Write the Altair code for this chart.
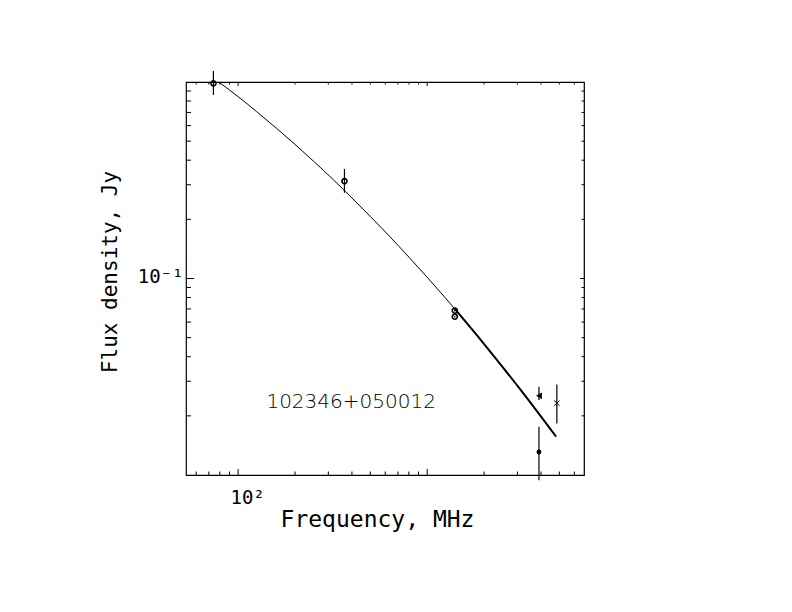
import altair as alt
import pandas as pd

# ---- measured flux densities (MHz, Jy) ----
pt_freq = [74, 365, 1400, 1400, 3900, 3900, 4850]
pt_flux = [0.985, 0.313, 0.0686, 0.0639, 0.0131, 0.0253, 0.0232]
pt_lo = [0.859, 0.273, 0.0680, 0.0633, 0.0094, 0.0241, 0.0183]
pt_hi = [1.137, 0.361, 0.0692, 0.0645, 0.0176, 0.0281, 0.0289]
pt_kind = ["open", "open", "open", "open", "filled", "tri", "cross"]

# ---- fitted spectrum ----
fit_freq = [79, 100, 125, 160, 200, 250, 320, 400, 500, 630, 800, 1000, 1400, 2000, 3150, 4800]
fit_flux = [1.00, 0.842, 0.708, 0.580, 0.481, 0.396, 0.317, 0.257, 0.207, 0.1645, 0.1285,
            0.1014, 0.0700, 0.0464, 0.0268, 0.0157]
thick_from = 1400

# ---- axis ticks ----
x_minor = [60, 70, 80, 90, 200, 300, 400, 500, 600, 700, 800, 900, 2000, 3000, 4000, 5000, 6000]
x_major = [100, 1000]
y_minor = [0.02, 0.03, 0.04, 0.05, 0.06, 0.07, 0.08, 0.09, 0.2, 0.3, 0.4, 0.5, 0.6, 0.7, 0.8, 0.9]
y_major = [0.1]

source_name = ["102346+050012"]
name_freq = [396]
name_flux = [0.0219]

W, H = 398, 393
FONT = "DejaVu Sans Mono"

xs = alt.Scale(type="log", domain=[53, 6750], nice=False)
ys = alt.Scale(type="log", domain=[0.01, 1.0], nice=False)

pts = pd.DataFrame({"freq": pt_freq, "flux": pt_flux, "lo": pt_lo, "hi": pt_hi, "kind": pt_kind})
fit = pd.DataFrame({"freq": fit_freq, "flux": fit_flux})

x_axis = alt.Axis(values=[100], labelExpr="'10²'", ticks=False, tickSize=0, domain=False, grid=False,
                  labelFont=FONT, labelFontSize=19, labelColor="black", labelBaseline="alphabetic",
                  labelPadding=28, labelOffset=9,
                  title="Frequency, MHz", titleFont=FONT, titleFontSize=23, titleFontWeight="normal",
                  titleColor="black", titleX=191, titleY=51, titleBaseline="alphabetic", titleAlign="center")
y_axis = alt.Axis(values=[0.1], labelExpr="'10⁻¹'", ticks=False, tickSize=0, domain=False, grid=False,
                  labelFont=FONT, labelFontSize=19, labelColor="black", labelAlign="right",
                  labelBaseline="middle", labelPadding=3, labelOffset=-2,
                  title="Flux density, Jy", titleFont=FONT, titleFontSize=21, titleFontWeight="normal",
                  titleColor="black", titleAngle=270, titleX=-70, titleY=189.5,
                  titleBaseline="alphabetic", titleAlign="center")


def X(field):
    return alt.X(field, scale=xs, axis=x_axis, title="Frequency, MHz")


def Y(field):
    return alt.Y(field, scale=ys, axis=y_axis, title="Flux density, Jy")


curve = alt.Chart(fit).mark_line(color="black", strokeWidth=1, interpolate="monotone").encode(
    x=X("freq:Q"), y=Y("flux:Q"))
curve_thick = alt.Chart(fit).transform_filter(alt.datum.freq >= thick_from).mark_line(
    color="black", strokeWidth=2, interpolate="monotone").encode(x=X("freq:Q"), y=Y("flux:Q"))

errbars = alt.Chart(pts).mark_rule(color="black", strokeWidth=1.2).encode(
    x=X("freq:Q"), y=Y("lo:Q"), y2="hi:Q")

open_c = alt.Chart(pts).transform_filter(alt.datum.kind == "open").mark_point(
    shape="circle", filled=False, color="black", size=26, strokeWidth=1.6, opacity=1).encode(
    x=X("freq:Q"), y=Y("flux:Q"))
filled_c = alt.Chart(pts).transform_filter(alt.datum.kind == "filled").mark_point(
    shape="circle", filled=True, color="black", size=24, opacity=1).encode(x=X("freq:Q"), y=Y("flux:Q"))
tri = alt.Chart(pts).transform_filter(alt.datum.kind == "tri").mark_point(
    shape="triangle-left", filled=True, color="black", size=45, opacity=1).encode(
    x=X("freq:Q"), y=Y("flux:Q"))
cross = alt.Chart(pts).transform_filter(alt.datum.kind == "cross").mark_point(
    shape="M-1,-1L1,1M-1,1L1,-1", filled=False, color="black", size=28, strokeWidth=1, opacity=1
).encode(x=X("freq:Q"), y=Y("flux:Q"))

name = alt.Chart(pd.DataFrame({"freq": name_freq, "flux": name_flux, "t": source_name})).mark_text(
    font="DejaVu Sans", fontSize=20, fontWeight=200, color="black", align="center",
    baseline="alphabetic").encode(x=X("freq:Q"), y=Y("flux:Q"), text="t:N")


def xticks(vals, y0, y1):
    return alt.Chart(pd.DataFrame({"freq": vals})).mark_rule(color="black", strokeWidth=1).encode(
        x=X("freq:Q"), y=alt.value(y0), y2=alt.value(y1))


def yticks(vals, x0, x1):
    return alt.Chart(pd.DataFrame({"flux": vals})).mark_rule(color="black", strokeWidth=1).encode(
        y=Y("flux:Q"), x=alt.value(x0), x2=alt.value(x1))


ticks = [
    xticks(x_minor, H, H - 3.5), xticks(x_major, H, H - 6),
    xticks(x_minor, 0, 2.5), xticks(x_major, 0, 4),
    yticks(y_minor, 0, 5), yticks(y_major, 0, 8),
    yticks(y_minor, W, W - 2.5), yticks(y_major, W, W - 4),
]

chart = alt.layer(curve, curve_thick, errbars, open_c, filled_c, tri, cross, name, *ticks).properties(
    width=W, height=H,
    autosize=alt.AutoSizeParams(type="none"),
    padding={"left": 178, "top": 74, "right": 190, "bottom": 125},
    background="white",
).configure_view(stroke="black", strokeWidth=1.2)

chart.save("out.html", embed_options={"renderer": "svg", "actions": False})
